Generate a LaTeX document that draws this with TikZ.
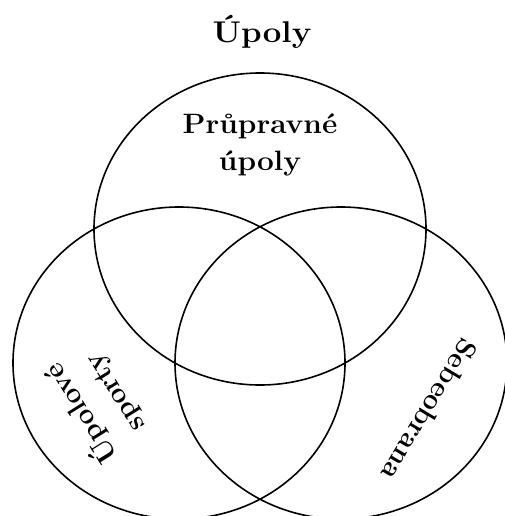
\documentclass[tikz,border=0pt]{standalone}
\usepackage{fontspec}
\usepackage{tikz}
\usetikzlibrary{positioning}
\tikzset{setline/.style = {line width=1.6pt},
         setlabel/.style = {font=\fontsize{28}{37}\selectfont\bfseries, align=center},
         titlelabel/.style = {font=\fontsize{30}{36}\selectfont\bfseries, xscale=1.1}}

\begin{document}
\begin{tikzpicture}[x=1pt, y=-1pt]
    \useasboundingbox (0, 0) rectangle (504, 516);

    \coordinate (T) at (260, 229);
    \coordinate (L) at (179, 363);
    \coordinate (R) at (341, 363);

    \draw [setline] (T) ellipse [x radius=166pt, y radius=156pt];
    \draw [setline] (L) ellipse [x radius=166pt, y radius=156pt];
    \draw [setline] (R) ellipse [x radius=166pt, y radius=156pt];

    \node [titlelabel, anchor=base] (upoly) at (262, 43) {Úpoly};
    \node [setlabel, anchor=base, xscale=1.065] (prupravne) at (260, 170) {Průpravné\\úpoly};
    \node [setlabel, rotate=122] (sporty) at (97, 404) {Úpolové\\[2pt]sporty};
    \node [setlabel, rotate=-121] (sebeobrana) at (430, 410) {Sebeobrana};
  \end{tikzpicture}
\end{document}
